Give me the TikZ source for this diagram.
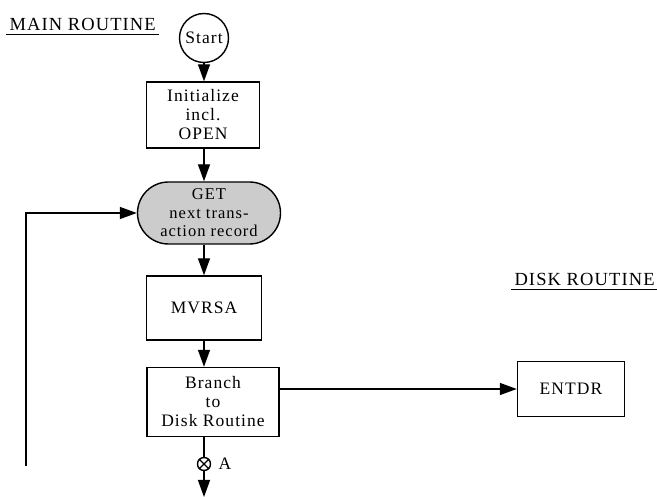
\documentclass[tikz,border=0pt]{standalone}
\usepackage{fontspec}
\setmainfont[LetterSpace=6]{Liberation Serif}
\usetikzlibrary{arrows.meta}
\begin{document}
\begin{tikzpicture}[x=1pt,y=-1pt,
  every node/.style={font=\fontsize{17.5}{19}\selectfont},
  box/.style={draw,line width=1.4pt,inner sep=0pt,align=center},
  flow/.style={line width=1.4pt,-{Triangle[length=17pt,width=12pt]}},
  plain/.style={line width=1.4pt}]
\useasboundingbox (0,0) rectangle (657,497);
% titles
\node[anchor=base west,font=\fontsize{18.5}{20}\selectfont] (mt) at (6,31) {MAIN ROUTINE};
\draw[line width=1.3pt] (mt.south west) -- (mt.south east);
\node[anchor=base west,font=\fontsize{18.5}{20}\selectfont] (dr) at (511,286) {DISK ROUTINE};
\draw[line width=1.3pt] (dr.south west) -- (dr.south east);
% nodes
\node[box,circle,minimum size=49pt] (start) at (204,38) {Start};
\node[box,minimum width=113pt,minimum height=66pt] (init) at (203,115)
  {Initialize\\incl.\\OPEN};
\node[box,fill=gray!40,rounded corners=31pt,minimum width=143pt,minimum height=62pt,
  font=\fontsize{16.5}{18.5}\selectfont] (get) at (209,213)
  {GET\\next trans-\\action record};
\node[box,minimum width=115pt,minimum height=64pt] (mv) at (204,308) {MVRSA};
\node[box,minimum width=132pt,minimum height=69pt] (br) at (213,402)
  {Branch\\to\\Disk Routine};
\node[box,minimum width=107pt,minimum height=55pt] (ent) at (571,389) {ENTDR};
% connector A
\node[draw,circle,line width=1.4pt,minimum size=13pt,inner sep=0pt] (ca) at (204,464) {};
\draw[line width=1.2pt] (ca.north west) -- (ca.south east) (ca.north east) -- (ca.south west);
\node[anchor=west] (la) at (215,464) {A};
\coordinate (endA) at (204,497);
\coordinate (loopB) at (26,466);
\coordinate (loopT) at (26,213);
% connectors
\draw[flow] (start) -- (start |- init.north);
\draw[flow] (init.south -| start) -- (start |- get.north);
\draw[flow] (start |- get.south) -- (start |- mv.north);
\draw[flow] (mv.south -| start) -- (start |- br.north);
\draw[plain] (br.south -| ca) -- (ca);
\draw[flow] (ca) -- (endA);
\draw[flow] (br.east |- ent) -- (ent);
\draw[flow] (loopB) -- (loopT) -- (get);
\end{tikzpicture}
\end{document}
